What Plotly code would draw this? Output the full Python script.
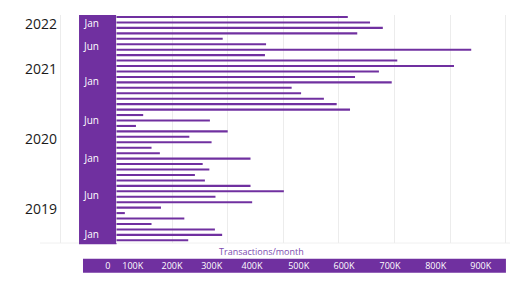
import plotly.graph_objects as go

# ---- data ----
values = [416000, 456000, 479000, 433000, 191000, 269000, 638000, 267000, 505000, 607000,
          472000, 429000, 495000, 315000, 332000, 373000, 396000, 420000, 48000, 168000,
          35000, 200000, 131000, 171000, 63000, 78000, 241000, 155000, 167000, 141000,
          159000, 241000, 301000, 178000, 244000, 80000, 15000, 122000, 63000, 177000,
          190000, 129000]
bar_index = list(range(len(values)))

year_labels = ["2022", "2021", "2020", "2019"]
month_labels = ["Jan", "Jun", "Jan", "Jun", "Jan", "Jun", "Jan"]
x_tick_labels = ["0", "100K", "200K", "300K", "400K", "500K", "600K", "700K", "800K", "900K"]
axis_title = "Transactions/month"

# ---- layout helpers (positions / styles) ----
PURPLE = "#7030A0"
year_pos = [1.3, 9.5, 22.4, 35.3]
month_pos = [1.16, 5.45, 11.93, 18.91, 25.94, 32.86, 39.89]
x_tick_pos = [0.110, 0.1653, 0.2522, 0.340, 0.4292, 0.5325, 0.6327, 0.7345, 0.8356, 0.9352]
y_range = [41.49, -0.367]
x_range = [-105216, 707734]

fig = go.Figure()
fig.add_trace(go.Bar(
    x=values, y=bar_index, orientation="h",
    marker=dict(color=PURPLE, line=dict(width=0)),
    width=0.38, showlegend=False, hoverinfo="x",
))
# helper traces so that the secondary axes are drawn
fig.add_trace(go.Scatter(x=[], y=[], xaxis="x2", yaxis="y", showlegend=False, hoverinfo="skip"))
fig.add_trace(go.Scatter(x=[], y=[], xaxis="x", yaxis="y2", showlegend=False, hoverinfo="skip"))

fig.update_layout(
    width=522, height=294,
    margin=dict(l=58, r=12, t=15, b=51),
    paper_bgcolor="white", plot_bgcolor="white",
    font=dict(family="Open Sans", color="#1a1a1a"),
    xaxis=dict(range=x_range, dtick=100000, tick0=0, showgrid=True, gridcolor="#ececec",
               gridwidth=1, showticklabels=False, zeroline=False, showline=False, ticks=""),
    yaxis=dict(range=y_range, tickvals=year_pos, ticktext=year_labels, showgrid=False,
               zeroline=False, showline=False, ticks="",
               tickfont=dict(family="Open Sans", size=14, color="#1a1a1a")),
    yaxis2=dict(overlaying="y", anchor="free", position=0.0907, side="left",
                range=y_range, tickvals=month_pos, ticktext=month_labels, showgrid=False,
                zeroline=False, showline=False, ticks="",
                tickfont=dict(family="Open Sans", size=10, color="white")),
    xaxis2=dict(overlaying="x", anchor="free", position=0, side="bottom", range=[0, 1],
                tickvals=x_tick_pos, ticktext=x_tick_labels, showgrid=False,
                zeroline=False, showline=False, ticks="", ticklabelstandoff=16,
                tickfont=dict(family="Open Sans", size=9, color="white")),
    shapes=[
        dict(type="line", xref="paper", yref="paper", x0=-0.04, x1=1, y0=0, y1=0,
             line=dict(color="#f0f0f0", width=1), layer="below"),
        dict(type="rect", xref="x", yref="paper", x0=-67400, x1=0, y0=-0.005, y1=1,
             fillcolor=PURPLE, line=dict(width=0), layer="below"),
        dict(type="rect", xref="paper", yref="paper", x0=0.0553, x1=0.991,
             y0=-0.0689, y1=-0.1303, fillcolor=PURPLE, line=dict(width=0), layer="below"),
    ],
    annotations=[
        dict(text=axis_title, xref="paper", yref="paper", x=0.4507, y=-0.038,
             showarrow=False, font=dict(family="Open Sans", size=9, color="#7d4bb0"),
             xanchor="center", yanchor="middle"),
    ],
)

fig.write_html("out.html")
